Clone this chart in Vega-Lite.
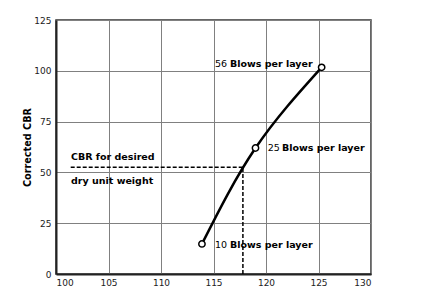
{
  "$schema": "https://vega.github.io/schema/vega-lite/v6.json",
  "autosize": {"type": "none"},
  "width": 315,
  "height": 254,
  "padding": {"left": 56, "top": 20, "right": 54, "bottom": 30},
  "background": "white",
  "config": {
    "font": "DejaVu Sans",
    "view": {"stroke": "#333333", "strokeWidth": 1.5},
    "axis": {
      "grid": true,
      "gridColor": "#808080",
      "gridWidth": 1,
      "domainColor": "#222222",
      "domainWidth": 2,
      "ticks": false,
      "labelFont": "DejaVu Sans",
      "labelFontSize": 9,
      "labelColor": "#222222"
    }
  },
  "datasets": {
    "curve": [
      {"weight": 113.9, "cbr": 14.8, "blows": 10},
      {"weight": 119.0, "cbr": 62.0, "blows": 25},
      {"weight": 125.3, "cbr": 101.7, "blows": 56}
    ],
    "labels": [
      {"num": "56", "txt": "Blows per layer", "nx": 115.14, "bx": 116.57, "ly": 103.3},
      {"num": "25", "txt": "Blows per layer", "nx": 120.16, "bx": 121.52, "ly": 62.0},
      {"num": "10", "txt": "Blows per layer", "nx": 115.14, "bx": 116.57, "ly": 14.3}
    ],
    "guides": [
      {"x1": 101.4, "x2": 117.8, "y1": 52.5, "y2": 52.5},
      {"x1": 117.8, "x2": 117.8, "y1": 0, "y2": 52.5}
    ],
    "notes": [
      {"t": "CBR for desired", "x": 101.43, "y": 57.6},
      {"t": "dry unit weight", "x": 101.43, "y": 45.8}
    ]
  },
  "layer": [
    {
      "data": {"name": "guides"},
      "mark": {"type": "rule", "color": "black", "strokeWidth": 1.5, "strokeDash": [4, 2]},
      "encoding": {
        "x": {"field": "x1", "type": "quantitative", "scale": {"domain": [100, 130], "nice": false, "zero": false},
          "axis": {"values": [100, 105, 110, 115, 120, 125, 130], "title": null, "labelPadding": 4}},
        "x2": {"field": "x2"},
        "y": {"field": "y1", "type": "quantitative", "scale": {"domain": [0, 125], "nice": false},
          "axis": {"values": [0, 25, 50, 75, 100, 125], "title": "Corrected CBR", "titleFont": "DejaVu Sans", "titleFontSize": 9.7, "titleFontWeight": "bold", "titleColor": "black", "labelPadding": 5, "titlePadding": 1}},
        "y2": {"field": "y2"}
      }
    },
    {
      "data": {"name": "curve"},
      "mark": {"type": "line", "color": "black", "strokeWidth": 2.5, "interpolate": "natural"},
      "encoding": {
        "x": {"field": "weight", "type": "quantitative"},
        "y": {"field": "cbr", "type": "quantitative"}
      }
    },
    {
      "data": {"name": "curve"},
      "mark": {"type": "point", "shape": "circle", "filled": true, "fill": "white", "stroke": "black", "strokeWidth": 1.5, "size": 40, "opacity": 1},
      "encoding": {
        "x": {"field": "weight", "type": "quantitative"},
        "y": {"field": "cbr", "type": "quantitative"}
      }
    },
    {
      "data": {"name": "labels"},
      "mark": {"type": "text", "align": "left", "baseline": "middle", "fontSize": 9.5, "color": "black"},
      "encoding": {
        "x": {"field": "nx", "type": "quantitative"},
        "y": {"field": "ly", "type": "quantitative"},
        "text": {"field": "num"}
      }
    },
    {
      "data": {"name": "labels"},
      "mark": {"type": "text", "align": "left", "baseline": "middle", "fontSize": 9.5, "fontWeight": "bold", "color": "black"},
      "encoding": {
        "x": {"field": "bx", "type": "quantitative"},
        "y": {"field": "ly", "type": "quantitative"},
        "text": {"field": "txt"}
      }
    },
    {
      "data": {"name": "notes"},
      "mark": {"type": "text", "align": "left", "baseline": "middle", "fontSize": 9.5, "fontWeight": "bold", "color": "black"},
      "encoding": {
        "x": {"field": "x", "type": "quantitative"},
        "y": {"field": "y", "type": "quantitative"},
        "text": {"field": "t"}
      }
    }
  ]
}
